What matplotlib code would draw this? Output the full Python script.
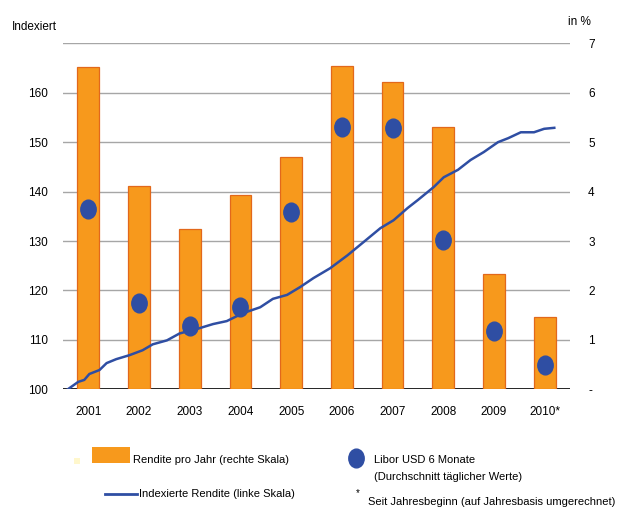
import numpy as np
import matplotlib
matplotlib.use('Agg')
import matplotlib.pyplot as plt
from matplotlib.path import Path
from matplotlib.patches import Rectangle
from matplotlib.lines import Line2D

plt.rcParams['font.family'] = ['Liberation Sans', 'DejaVu Sans']

# data
years = ['2001', '2002', '2003', '2004', '2005', '2006', '2007', '2008', '2009', '2010*']
rendite = [6.52, 4.11, 3.24, 3.94, 4.70, 6.55, 6.21, 5.31, 2.34, 1.46]     # % (right scale)
libor = [3.64, 1.74, 1.28, 1.67, 3.59, 5.31, 5.28, 3.03, 1.18, 0.49]       # % (right scale)

# indexed return (left scale), time in fractional years
index_time = [2001.04, 2001.30, 2001.42, 2001.52, 2001.72, 2001.86, 2002.05, 2002.31,
              2002.57, 2002.77, 2003.05, 2003.30, 2003.64, 2003.96, 2004.23, 2004.55,
              2004.89, 2005.14, 2005.42, 2005.68, 2005.94, 2006.27, 2006.61, 2006.93,
              2007.26, 2007.52, 2007.80, 2008.00, 2008.31, 2008.51, 2008.79, 2009.04,
              2009.30, 2009.58, 2009.78, 2010.03, 2010.29, 2010.49, 2010.69]
index_value = [99.6, 101.5, 101.9, 103.1, 103.9, 105.3, 106.1, 106.9,
               107.9, 109.1, 109.9, 111.3, 112.2, 113.2, 113.8, 115.4,
               116.6, 118.3, 119.1, 120.7, 122.5, 124.5, 127.1, 129.8,
               132.6, 134.2, 136.7, 138.3, 140.9, 142.9, 144.4, 146.4,
               148.0, 150.0, 150.8, 152.0, 152.0, 152.7, 152.9]

left_ticks = [100, 110, 120, 130, 140, 150, 160]
right_ticks = [0, 1, 2, 3, 4, 5, 6, 7]
right_labels = ['-', '1', '2', '3', '4', '5', '6', '7']

orange = '#F7991C'
orange_edge = '#E2681B'
blue = '#2F4EA3'
grid_col = '#A6A6A6'

W, H = 623, 508
fig = plt.figure(figsize=(W / 100, H / 100), dpi=100)


def fx(x):
    return x / W


def fy(y):
    return 1 - y / H


ax = fig.add_axes([fx(63), fy(389.3), fx(570) - fx(63), fy(43.3) - fy(389.3)])
ax2 = ax.twinx()

x = np.arange(len(years))
ax.set_xlim(-0.5, 9.5)
ax.set_ylim(100, 170)
ax2.set_ylim(0, 7)

# grid on left axis
for v in [110, 120, 130, 140, 150, 160, 170]:
    ax.axhline(v, color=grid_col, lw=1, zorder=0)

ax2.bar(x, rendite, width=0.43, color=orange, edgecolor=orange_edge, linewidth=0.9, zorder=1)

# indexed line drawn with the left axis scale
line_x = np.array(index_time) - 2001.5
ax2.plot(line_x, index_value, color=blue, lw=1.8, zorder=2, transform=ax.transData)

circ = Path.unit_circle()
ellipse = Path(circ.vertices * np.array([1.0, 1.22]), circ.codes)
ax2.plot(x, libor, ls='none', marker=ellipse, ms=13.5, color=blue, zorder=3)

for a in (ax, ax2):
    for s in ['top', 'left', 'right', 'bottom']:
        a.spines[s].set_visible(False)
    a.tick_params(length=0)
ax.axhline(100, color='black', lw=1.2, zorder=4)

ax.set_xticks(x)
ax.set_xticklabels(years, fontsize=8.5)
ax.tick_params(axis='x', pad=12)
ax.set_yticks(left_ticks)
ax.set_yticklabels([str(t) for t in left_ticks], fontsize=8.5)
ax.tick_params(axis='y', pad=11)
ax2.set_yticks(right_ticks)
ax2.set_yticklabels(right_labels, fontsize=8.5)
ax2.tick_params(axis='y', pad=13)

fig.text(fx(12), fy(27), 'Indexiert', fontsize=8.5, va='center', ha='left')
fig.text(fx(568), fy(22), 'in %', fontsize=8.5, va='center', ha='left')

# legend
fig.add_artist(Rectangle((fx(74), fy(464)), fx(6), fy(458) - fy(464),
                         transform=fig.transFigure, color='#FFF7CC', lw=0))
fig.add_artist(Rectangle((fx(92), fy(463)), fx(38), fy(447) - fy(463),
                         transform=fig.transFigure, color=orange, lw=0))
fig.text(fx(133), fy(460), 'Rendite pro Jahr (rechte Skala)', fontsize=8, va='center')
fig.add_artist(Line2D([fx(105), fx(137)], [fy(494), fy(494)],
                      transform=fig.transFigure, color=blue, lw=2))
fig.text(fx(139), fy(494), 'Indexierte Rendite (linke Skala)', fontsize=8, va='center')
fig.add_artist(Line2D([fx(356)], [fy(458)], transform=fig.transFigure, ls='none',
                      marker=ellipse, ms=13.5, color=blue))
fig.text(fx(374), fy(460), 'Libor USD 6 Monate', fontsize=8, va='center')
fig.text(fx(374), fy(477), '(Durchschnitt täglicher Werte)', fontsize=8, va='center')
fig.text(fx(356), fy(493), '*', fontsize=7, va='center')
fig.text(fx(368), fy(502), 'Seit Jahresbeginn (auf Jahresbasis umgerechnet)', fontsize=8, va='center')

fig.savefig('out.png', dpi=100)
